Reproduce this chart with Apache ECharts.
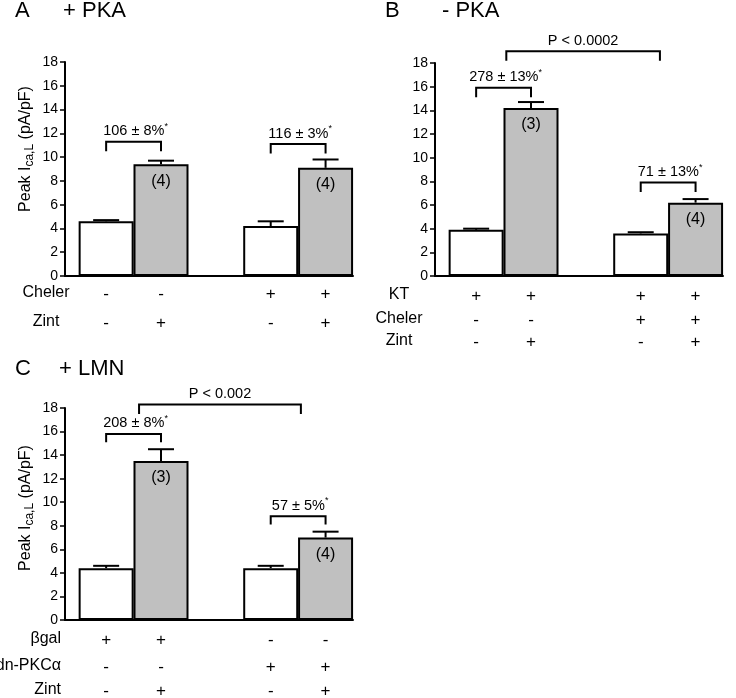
<!DOCTYPE html>
<html><head><meta charset="utf-8">
<script src="https://cdn.jsdelivr.net/npm/echarts@6/dist/echarts.min.js"></script>
<style>html,body{margin:0;padding:0;background:#fff}#c{width:736px;height:698px}</style>
</head><body><div id="c"></div>
<script>
// ---------- data ----------
const yTickMin = 0, yTickMax = 18, yTickStep = 2;

const meansA = [4.6, 9.4, 4.2, 9.1];
const semA   = [0.1, 0.3, 0.4, 0.7];
const nA     = ['', '(4)', '', '(4)'];

const meansB = [3.9, 14.2, 3.6, 6.2];
const semB   = [0.1, 0.5, 0.1, 0.3];
const nB     = ['', '(3)', '', '(4)'];

const meansC = [4.4, 13.5, 4.4, 7.0];
const semC   = [0.2, 1.0, 0.2, 0.5];
const nC     = ['', '(3)', '', '(4)'];

const rowsA  = ['Cheler', 'Zint'];
const signsA = [['-', '-', '+', '+'], ['-', '+', '-', '+']];
const rowsB  = ['KT', 'Cheler', 'Zint'];
const signsB = [['+', '+', '+', '+'], ['-', '-', '+', '+'], ['-', '+', '-', '+']];
const rowsC  = ['\u03B2gal', 'dn-PKC\u03B1', 'Zint'];
const signsC = [['+', '+', '-', '-'], ['-', '-', '+', '+'], ['-', '+', '-', '+']];

// brackets: from/to on bar-slot scale, top/leg on value scale
const annotA = [
  {from: 0, to: 1, top: 11.3, leg: 10.5, text: '106 \u00B1 8%', star: true},
  {from: 3, to: 4, top: 11.1, leg: 10.3, text: '116 \u00B1 3%', star: true}
];
const annotB = [
  {from: 0, to: 1, top: 15.9, leg: 15.1, text: '278 \u00B1 13%', star: true},
  {from: 0.55, to: 3.35, top: 19.0, leg: 18.2, text: 'P < 0.0002', star: false},
  {from: 3, to: 4, top: 7.9, leg: 7.1, text: '71 \u00B1 13%', star: true}
];
const annotC = [
  {from: 0, to: 1, top: 15.8, leg: 15.1, text: '208 \u00B1 8%', star: true},
  {from: 0.6, to: 3.55, top: 18.3, leg: 17.5, text: 'P < 0.002', star: false},
  {from: 3, to: 4, top: 8.8, leg: 8.1, text: '57 \u00B1 5%', star: true}
];

const panelTitles = [['A', '+ PKA'], ['B', '- PKA'], ['C', '+ LMN']];
const yTitle = ['Peak I', 'ca,L', ' (pA/pF)'];

// ---------- build ----------
const FONT = "'Liberation Sans', Arial, sans-serif";
const barColors = ['#ffffff', '#c0c0c0', '#ffffff', '#c0c0c0'];
const slotOf = i => i + (i >= 2 ? 1 : 0);

const panels = [
  {means: meansA, sem: semA, n: nA, rows: rowsA, signs: signsA, annot: annotA,
   grid: {left: 65, top: 62, width: 288, height: 214}, yName: true, namePad: 40,
   rowOff: [17, 46], labelAlign: 'center', labelDx: -19},
  {means: meansB, sem: semB, n: nB, rows: rowsB, signs: signsB, annot: annotB,
   grid: {left: 435, top: 63, width: 288, height: 213}, yName: false, namePad: 0,
   rowOff: [19, 43, 65], labelAlign: 'center', labelDx: -36},
  {means: meansC, sem: semC, n: nC, rows: rowsC, signs: signsC, annot: annotC,
   grid: {left: 65, top: 408, width: 288, height: 212}, yName: true, namePad: 12,
   rowOff: [19, 46, 70], labelAlign: 'right', labelDx: -4}
];

const grids = [], xAxes = [], yAxes = [], series = [];

panels.forEach((p, k) => {
  grids.push(Object.assign({containLabel: false}, p.grid));
  xAxes.push({
    type: 'value', gridIndex: k, min: -0.75, max: 4.5,
    axisLine: {show: true, onZero: false, lineStyle: {color: '#000', width: 2}},
    axisTick: {show: false}, axisLabel: {show: false}, splitLine: {show: false}
  });
  yAxes.push({
    type: 'value', gridIndex: k, min: yTickMin, max: yTickMax, interval: yTickStep,
    axisLine: {show: true, onZero: false, lineStyle: {color: '#000', width: 2}},
    axisTick: {show: true, inside: false, length: 5, lineStyle: {color: '#000', width: 1.5}},
    axisLabel: {color: '#000', fontFamily: FONT, fontSize: 14, margin: 7},
    splitLine: {show: false},
    name: p.yName ? '{n|' + yTitle[0] + '}{s|' + yTitle[1] + '}{n|' + yTitle[2] + '}' : '',
    nameLocation: 'middle', nameRotate: 90, nameGap: 29,
    nameTextStyle: {
      padding: [0, 0, 0, p.namePad],
      rich: {
        n: {fontFamily: FONT, fontSize: 16, color: '#000', lineHeight: 20, verticalAlign: 'middle'},
        s: {fontFamily: FONT, fontSize: 12, color: '#000', lineHeight: 20, verticalAlign: 'bottom'}
      }
    }
  });

  // bars
  series.push({
    type: 'bar', xAxisIndex: k, yAxisIndex: k, barWidth: 55, z: 2,
    data: p.means.map((m, i) => ({
      value: [slotOf(i), m],
      itemStyle: {color: barColors[i], borderColor: '#000', borderWidth: 2},
      label: {show: p.n[i] !== ''}
    })),
    label: {
      position: 'insideTop', distance: 9, color: '#000', fontFamily: FONT, fontSize: 16,
      formatter: prm => p.n[prm.dataIndex]
    },
    animation: false
  });

  // error bars (upper only)
  series.push({
    type: 'custom', xAxisIndex: k, yAxisIndex: k, z: 3, clip: false,
    data: p.means.map((m, i) => [slotOf(i), m, p.sem[i]]),
    encode: {x: 0, y: 1},
    renderItem: (params, api) => {
      const x = api.value(0), m = api.value(1), s = api.value(2);
      const a = api.coord([x, m]), b = api.coord([x, m + s]);
      const st = {stroke: '#000', lineWidth: 2};
      return {type: 'group', children: [
        {type: 'line', shape: {x1: a[0], y1: a[1], x2: b[0], y2: b[1]}, style: st},
        {type: 'line', shape: {x1: b[0] - 13, y1: b[1], x2: b[0] + 13, y2: b[1]}, style: st}
      ]};
    },
    animation: false
  });

  // brackets with text
  series.push({
    type: 'custom', xAxisIndex: k, yAxisIndex: k, z: 4, clip: false,
    data: p.annot.map(a => [a.from, a.to, a.top, a.leg]),
    encode: {x: [0, 1], y: [2, 3]},
    renderItem: (params, api) => {
      const an = p.annot[params.dataIndex];
      const l0 = api.coord([api.value(0), api.value(3)]);
      const t0 = api.coord([api.value(0), api.value(2)]);
      const t1 = api.coord([api.value(1), api.value(2)]);
      const l1 = api.coord([api.value(1), api.value(3)]);
      const txt = an.star ? '{t|' + an.text + '}{s|*}' : '{t|' + an.text + '}';
      return {type: 'group', children: [
        {type: 'polyline', shape: {points: [l0, t0, t1, l1]},
         style: {stroke: '#000', lineWidth: 2, fill: null}},
        {type: 'text', x: (t0[0] + t1[0]) / 2 + (an.star ? 2 : 0), y: t0[1] - 3,
         style: {text: txt, align: 'center', verticalAlign: 'bottom',
           rich: {
             t: {fontFamily: FONT, fontSize: 14.5, fill: '#000', lineHeight: 17, verticalAlign: 'bottom'},
             s: {fontFamily: FONT, fontSize: 9, fill: '#000', lineHeight: 17, verticalAlign: 'top'}
           }}}
      ]};
    },
    animation: false
  });

  // condition table (+/- signs)
  const signData = [];
  p.signs.forEach((row, r) => row.forEach((sg, i) => signData.push([slotOf(i), 0, r, i])));
  series.push({
    type: 'custom', xAxisIndex: k, yAxisIndex: k, z: 4, clip: false,
    data: signData, encode: {x: 0, y: 1},
    renderItem: (params, api) => {
      const r = api.value(2), i = api.value(3);
      const pt = api.coord([api.value(0), 0]);
      return {type: 'text', x: pt[0], y: pt[1] + p.rowOff[r] + 1,
        style: {text: p.signs[r][i], align: 'center', verticalAlign: 'middle',
          fontFamily: FONT, fontSize: 17, fill: '#000'}};
    },
    animation: false
  });

  // row labels
  series.push({
    type: 'custom', xAxisIndex: k, yAxisIndex: k, z: 4, clip: false,
    data: p.rows.map((lab, r) => [-0.75, 0, r]), encode: {x: 0, y: 1},
    renderItem: (params, api) => {
      const r = api.value(2);
      const pt = api.coord([api.value(0), 0]);
      return {type: 'text', x: pt[0] + p.labelDx, y: pt[1] + p.rowOff[r],
        style: {text: p.rows[r], align: p.labelAlign, verticalAlign: 'middle',
          fontFamily: FONT, fontSize: 16, fill: '#000'}};
    },
    animation: false
  });
});

const titlePos = [[15, 63, 12], [385, 442, 12], [15, 59, 370]];
const graphic = [];
panelTitles.forEach((t, k) => {
  graphic.push({type: 'text', left: titlePos[k][0], top: titlePos[k][2] - 12,
    style: {text: t[0], fontFamily: FONT, fontSize: 22, fill: '#000'}});
  graphic.push({type: 'text', left: titlePos[k][1], top: titlePos[k][2] - 12,
    style: {text: t[1], fontFamily: FONT, fontSize: 22, fill: '#000'}});
});

const chart = echarts.init(document.getElementById('c'), null, {renderer: 'canvas'});
chart.setOption({
  animation: false,
  backgroundColor: '#fff',
  grid: grids, xAxis: xAxes, yAxis: yAxes, series: series, graphic: graphic
});
</script></body></html>
